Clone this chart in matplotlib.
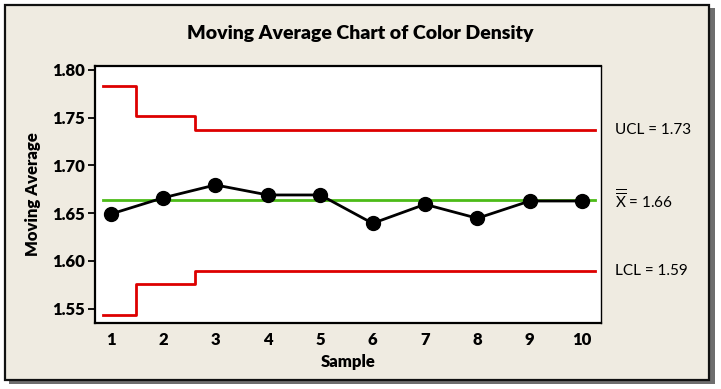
import numpy as np
import matplotlib
matplotlib.use("Agg")
import matplotlib.pyplot as plt
from matplotlib.patches import Rectangle

# data
samples = [1, 2, 3, 4, 5, 6, 7, 8, 9, 10]
moving_avg = [1.649, 1.666, 1.6795, 1.669, 1.669, 1.6393, 1.6592, 1.6446, 1.6627, 1.6627]
center = 1.6634
# control limits change while the moving average fills up
limit_edges = [0.86, 1.48, 2.61, 10.24]
ucl_steps = [1.783, 1.752, 1.737]
lcl_steps = [1.543, 1.5757, 1.5893]
side_labels = ["UCL = 1.73", r"$\overline{\overline{\mathrm{X}}}$ = 1.66", "LCL = 1.59"]
side_values = [1.737, 1.6634, 1.5893]
yticks = [1.55, 1.60, 1.65, 1.70, 1.75, 1.80]

plt.rcParams['font.family'] = ["Lato", "DejaVu Sans"]
plt.rcParams['mathtext.fontset'] = 'custom'
plt.rcParams['mathtext.rm'] = 'Lato'
plt.rcParams['mathtext.it'] = 'Lato:italic'
plt.rcParams['mathtext.bf'] = 'Lato:bold'

W, H = 721, 389
fig = plt.figure(figsize=(W/100, H/100), dpi=100, facecolor="white")

# panel with drop shadow
fig.patches.append(Rectangle((9/W, 1-384/H), 706/W, 376/H, transform=fig.transFigure,
                             facecolor="#6e6e6e", edgecolor="none", zorder=-3))
fig.patches.append(Rectangle((5/W, 1-380/H), 704/W, 375/H, transform=fig.transFigure,
                             facecolor="#efebe1", edgecolor="#111111", lw=1.6, zorder=-2))

ax = fig.add_axes([95/W, 1-322.7/H, 506/W, 256.7/H])
ax.set_facecolor("white")

# limits as steps
ux = limit_edges
uy = ucl_steps + [ucl_steps[-1]]
ly = lcl_steps + [lcl_steps[-1]]
ax.step(ux, uy, where="post", color="#dd0000", lw=2.0, zorder=2)
ax.step(ux, ly, where="post", color="#dd0000", lw=2.0, zorder=2)
ax.plot([limit_edges[0], limit_edges[-1]], [center, center], color="#4cbb17", lw=2.0, zorder=2)
ax.plot(samples, moving_avg, color="black", lw=2.0, marker="o", markersize=10, zorder=3)

ax.set_xlim(0.70, 10.36)
ax.set_ylim(1.5353, 1.804)
ax.set_yticks(yticks)
ax.set_yticklabels(["%.2f" % v for v in yticks], fontweight="heavy", fontsize=12)
ax.set_xticks(samples)
ax.set_xticklabels([str(s) for s in samples], fontweight="heavy", fontsize=12)
ax.tick_params(axis="y", direction="out", length=5, width=1.3, pad=2)
ax.tick_params(axis="x", length=0, pad=7)
for s in ax.spines.values():
    s.set_linewidth(1.6)
    s.set_color("black")
ax.spines["right"].set_linewidth(1.0)

ax.set_xlabel("Sample", fontweight="heavy", fontsize=12, labelpad=4)
ax.set_ylabel("Moving Average", fontweight="heavy", fontsize=12, labelpad=8)
fig.text(360/W, 1-33/H, "Moving Average Chart of Color Density", ha="center", va="center",
         fontweight="heavy", fontsize=14)

for lab, v in zip(side_labels, side_values):
    ax.annotate(lab, xy=(1.0, v), xycoords=("axes fraction", "data"),
                xytext=(10, 0), textcoords="offset points", ha="left", va="center",
                fontsize=11, annotation_clip=False)

fig.savefig("out.png", dpi=100, facecolor=fig.get_facecolor())
